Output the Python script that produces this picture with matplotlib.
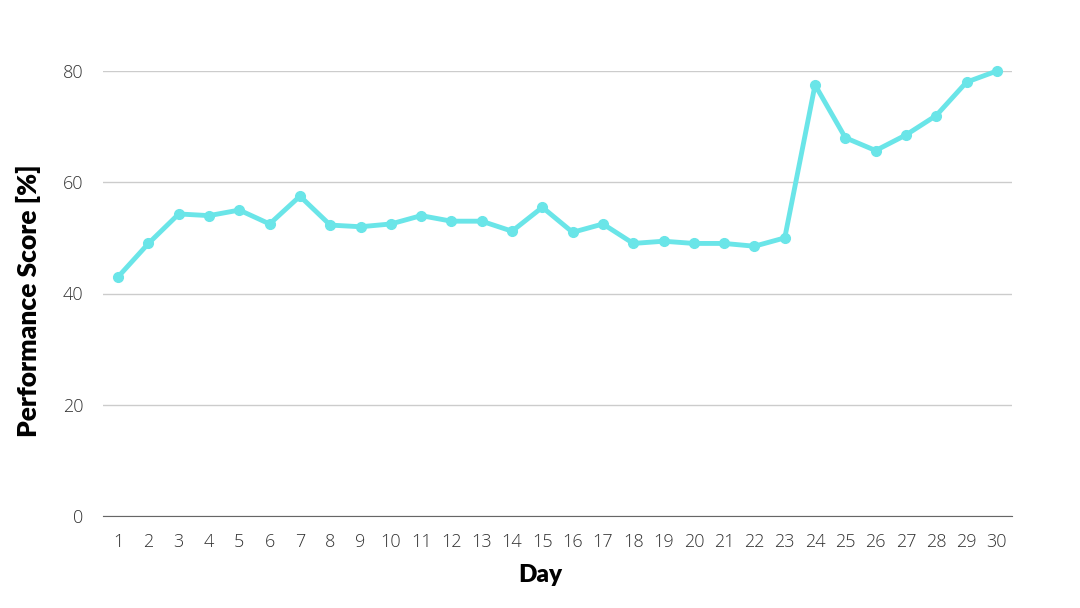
import matplotlib
matplotlib.use("Agg")
import matplotlib.pyplot as plt
from matplotlib import font_manager
from matplotlib.font_manager import FontProperties

days = list(range(1, 31))
scores = [43, 49, 54.3, 54, 55, 52.5, 57.5, 52.3, 52, 52.5, 54, 53, 53, 51.2, 55.5,
          51, 52.5, 49, 49.4, 49, 49, 48.5, 50, 77.5, 68, 65.7, 68.5, 72, 78, 80]
yticks = [0, 20, 40, 60, 80]


def font_by_file(names, family, weight):
    files = {f.fname.split("/")[-1]: f.fname for f in font_manager.fontManager.ttflist}
    for n in names:
        if n in files:
            return FontProperties(fname=files[n])
    return FontProperties(family=family, weight=weight)


tick_fp = font_by_file(["OpenSans-Light.ttf", "OpenSans-Regular.ttf"], "Open Sans", "light")
label_fp = font_by_file(["Lato-Black.ttf", "Lato-Heavy.ttf"], "Lato", 900)

fig = plt.figure(figsize=(10.8, 6.08), dpi=100)
ax = fig.add_axes([103/1080, (608-516)/608, (1012-103)/1080, (516-71)/608])

color = "#6ae5e8"
ax.plot(days, scores, color=color, linewidth=3.5, marker="o", markersize=7,
        clip_on=False, zorder=3, solid_joinstyle="round")

ax.set_xlim(0.5, 30.5)
ax.set_ylim(0, 80)
ax.set_yticks(yticks)
ax.set_xticks(days)
ax.set_xticklabels([str(d) for d in days], fontproperties=tick_fp, fontsize=13)
ax.set_yticklabels([str(v) for v in yticks], fontproperties=tick_fp, fontsize=13)
ax.grid(axis="y", color="#cccccc", linewidth=1)
ax.set_axisbelow(True)
for s in ["top", "right", "left"]:
    ax.spines[s].set_visible(False)
ax.spines["bottom"].set_color("#666666")
ax.tick_params(axis="both", length=0, colors="#333333")
ax.tick_params(axis="x", pad=12)
ax.tick_params(axis="y", pad=14)

fig.text(540/1080, 1 - 575/608, "Day", fontproperties=label_fp, fontsize=17.5,
         ha="center", va="center", color="black")
fig.text(28/1080, 1 - 301/608, "Performance Score [%]", fontproperties=label_fp, fontsize=19,
         ha="center", va="center", rotation=90, color="black")

fig.savefig("out.png", dpi=100)
